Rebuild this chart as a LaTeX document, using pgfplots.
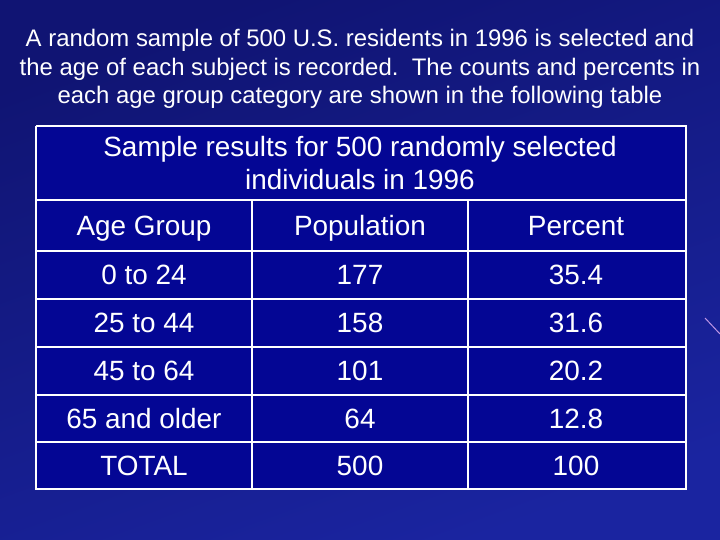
\documentclass[border=0pt]{standalone}
\usepackage{pgfplots}
\pgfplotsset{compat=1.18}
\usepackage{fontspec}
\setmainfont{Liberation Sans}
\definecolor{bgA}{RGB}{26,36,160}
\definecolor{bgB}{RGB}{16,20,115}
\definecolor{cell}{RGB}{4,6,148}
\definecolor{streak}{RGB}{190,150,230}
\begin{document}
\begin{tikzpicture}
\begin{axis}[
    width=720bp, height=540bp,
    scale only axis,
    xmin=0, xmax=720,
    ymin=0, ymax=540,
    y dir=reverse,
    hide axis,
    clip=true
]
% background
\addplot[draw=none, bottom color=bgA, top color=bgB, shading angle=20] coordinates {(0,0) (720,0) (720,540) (0,540) (0,0)};
\addplot[streak, line width=1pt] coordinates {(705,318) (720,334)};
% table body
\addplot[draw=none, fill=cell] coordinates {(36,126) (686,126) (686,489) (36,489) (36,126)};
% grid
\addplot[white, line width=2.5pt] coordinates {(36,126) (686,126) (686,489) (36,489) (36,126)};
\addplot[white, line width=2.5pt] coordinates {(36,200) (686,200)};
\addplot[white, line width=2.5pt] coordinates {(36,251) (686,251)};
\addplot[white, line width=2.5pt] coordinates {(36,299) (686,299)};
\addplot[white, line width=2.5pt] coordinates {(36,347) (686,347)};
\addplot[white, line width=2.5pt] coordinates {(36,395) (686,395)};
\addplot[white, line width=2.5pt] coordinates {(36,442) (686,442)};
\addplot[white, line width=2.5pt] coordinates {(252,200) (252,489)};
\addplot[white, line width=2.5pt] coordinates {(468,200) (468,489)};

% title
\begin{scope}[every node/.style={white, anchor=base, inner sep=0pt, font=\fontsize{24}{28}\selectfont}]
\node at (axis cs:360,47) {A random sample of 500 U.S. residents in 1996 is selected and};
\node at (axis cs:360,75.5) {the age of each subject is recorded.\ \ The counts and percents in};
\node at (axis cs:360,104) {each age group category are shown in the following table};
\end{scope}

% table caption and cells
\begin{scope}[every node/.style={white, anchor=base, inner sep=0pt, font=\fontsize{28}{32}\selectfont}]
\node at (axis cs:360,157) {Sample results for 500 randomly selected};
\node at (axis cs:360,190) {individuals in 1996};
\node at (axis cs:144,236) {Age Group};
\node at (axis cs:360,236) {Population};
\node at (axis cs:576,236) {Percent};
\node at (axis cs:144,285) {0 to 24};
\node at (axis cs:360,285) {177};
\node at (axis cs:576,285) {35.4};
\node at (axis cs:144,332) {25 to 44};
\node at (axis cs:360,332) {158};
\node at (axis cs:576,332) {31.6};
\node at (axis cs:144,380) {45 to 64};
\node at (axis cs:360,380) {101};
\node at (axis cs:576,380) {20.2};
\node at (axis cs:144,428) {65 and older};
\node at (axis cs:360,428) {64};
\node at (axis cs:576,428) {12.8};
\node at (axis cs:144,475) {TOTAL};
\node at (axis cs:360,475) {500};
\node at (axis cs:576,475) {100};
\end{scope}
\end{axis}
\end{tikzpicture}
\end{document}
